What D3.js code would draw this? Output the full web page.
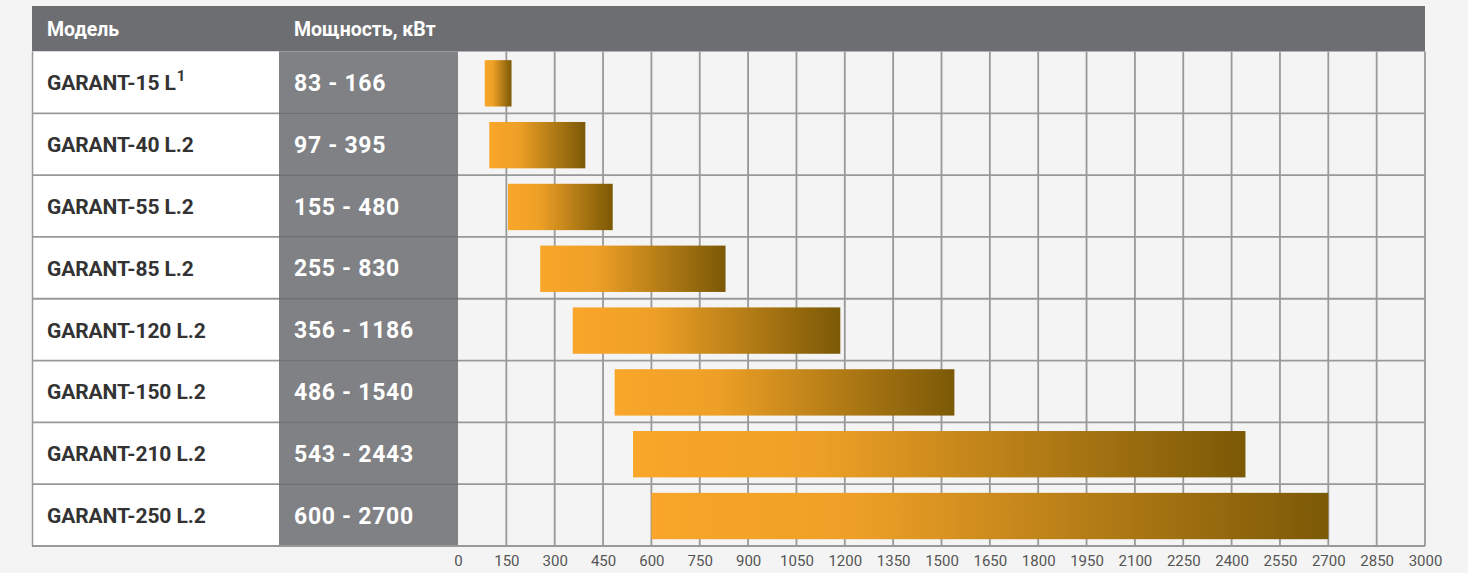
<!DOCTYPE html>
<html>
<head>
<meta charset="utf-8">
<script src="https://cdn.jsdelivr.net/npm/d3@7"></script>
<style>
  html, body { margin: 0; padding: 0; background: #f4f4f4; }
  svg { display: block; font-family: Roboto, "Noto Sans", sans-serif; }
</style>
</head>
<body>
<div id="chart"></div>
<script>
// model names, the footnote mark and the power ranges (kW)
const models = ["GARANT-15 L", "GARANT-40 L.2", "GARANT-55 L.2", "GARANT-85 L.2",
    "GARANT-120 L.2", "GARANT-150 L.2", "GARANT-210 L.2", "GARANT-250 L.2"];
const footnotes = ["1", "", "", "", "", "", "", ""];
const powerMin = [83, 97, 155, 255, 356, 486, 543, 600];
const powerMax = [166, 395, 480, 830, 1186, 1540, 2443, 2700];
const tickValues = [0, 150, 300, 450, 600, 750, 900, 1050, 1200, 1350, 1500,
    1650, 1800, 1950, 2100, 2250, 2400, 2550, 2700, 2850, 3000];
const headers = ["Модель", "Мощность, кВт"];

const width = 1468, height = 573;
const tableLeft = 32, tableRight = 1425;
const headTop = 6, headBottom = 51.5, tableBottom = 546;
const col2Left = 279, chartLeft = 458;

const rows = models.map((m, i) => ({
    model: m, note: footnotes[i], min: powerMin[i], max: powerMax[i]
}));

const svg = d3.select("#chart").append("svg")
    .attr("width", width)
    .attr("height", height);

const grad = svg.append("defs").append("linearGradient")
    .attr("id", "barGrad")
    .attr("x1", "0%").attr("x2", "100%").attr("y1", "0%").attr("y2", "0%");
grad.append("stop").attr("offset", "0%").attr("stop-color", "#f9a62a");
grad.append("stop").attr("offset", "30%").attr("stop-color", "#eea026");
grad.append("stop").attr("offset", "100%").attr("stop-color", "#7b5906");

const x = d3.scaleLinear().domain([0, 3000]).range([chartLeft, tableRight]);
const y = d3.scaleBand().domain(models).range([headBottom, tableBottom]);

// header band
svg.append("rect")
    .attr("x", tableLeft).attr("y", headTop)
    .attr("width", tableRight - tableLeft).attr("height", headBottom - headTop)
    .attr("fill", "#6d6e72");

svg.selectAll(".head").data(headers).enter().append("text")
    .attr("class", "head")
    .attr("x", (d, i) => i === 0 ? 47 : 294)
    .attr("y", 36)
    .attr("fill", "#ffffff")
    .attr("font-size", 19.5)
    .attr("font-weight", 700)
    .text(d => d);

// model column and value column
svg.append("rect")
    .attr("x", tableLeft).attr("y", headBottom)
    .attr("width", col2Left - tableLeft).attr("height", tableBottom - headBottom)
    .attr("fill", "#ffffff");
svg.append("rect")
    .attr("x", col2Left).attr("y", headBottom)
    .attr("width", chartLeft - col2Left).attr("height", tableBottom - headBottom)
    .attr("fill", "#808184");

// vertical grid
svg.append("g").selectAll("line").data(tickValues.slice(1)).enter().append("line")
    .attr("x1", d => x(d)).attr("x2", d => x(d))
    .attr("y1", headBottom).attr("y2", tableBottom)
    .attr("stroke", "#999999")
    .attr("stroke-width", 1.8);

// horizontal row lines
const rowLines = models.slice(1).map(m => y(m)).concat([tableBottom]);
svg.append("g").selectAll("line").data(rowLines).enter().append("line")
    .attr("x1", tableLeft).attr("x2", tableRight)
    .attr("y1", d => d).attr("y2", d => d)
    .attr("stroke", "#999999")
    .attr("stroke-width", 1.8);
svg.append("g").selectAll("line").data(rowLines.slice(0, -1)).enter().append("line")
    .attr("x1", col2Left).attr("x2", chartLeft)
    .attr("y1", d => d).attr("y2", d => d)
    .attr("stroke", "#707174")
    .attr("stroke-width", 1.8);

// left border
svg.append("line")
    .attr("x1", tableLeft + 0.5).attr("x2", tableLeft + 0.5)
    .attr("y1", headBottom).attr("y2", tableBottom)
    .attr("stroke", "#999999").attr("stroke-width", 1.5);

// bars
svg.append("g").selectAll("rect").data(rows).enter().append("rect")
    .attr("x", d => x(d.min))
    .attr("width", d => x(d.max) - x(d.min))
    .attr("y", d => y(d.model) + y.bandwidth() * 0.14)
    .attr("height", y.bandwidth() * 0.75)
    .attr("fill", "url(#barGrad)");

// model labels
const labels = svg.append("g").selectAll("text").data(rows).enter().append("text")
    .attr("x", 47)
    .attr("y", d => y(d.model) + y.bandwidth() / 2 + 8)
    .attr("fill", "#333333")
    .attr("font-size", 21)
    .attr("font-weight", 700)
    .attr("letter-spacing", -0.1);
labels.append("tspan").text(d => d.model);
labels.append("tspan")
    .attr("font-size", 15)
    .attr("dy", -9)
    .attr("dx", 1)
    .text(d => d.note);

// range values
svg.append("g").selectAll("text").data(rows).enter().append("text")
    .attr("x", 294)
    .attr("y", d => y(d.model) + y.bandwidth() / 2 + 8.5)
    .attr("fill", "#ffffff")
    .attr("font-size", 23)
    .attr("font-weight", 700)
    .attr("letter-spacing", 0.7)
    .text(d => d.min + " - " + d.max);

// axis
const axis = svg.append("g")
    .attr("transform", "translate(0," + (tableBottom + 6) + ")")
    .call(d3.axisBottom(x).tickValues(tickValues).tickSize(0).tickFormat(d3.format("d")));
axis.select(".domain").remove();
axis.selectAll("text")
    .attr("font-family", "Roboto, sans-serif")
    .attr("font-size", 15)
    .attr("fill", "#555555");
</script>
</body>
</html>
